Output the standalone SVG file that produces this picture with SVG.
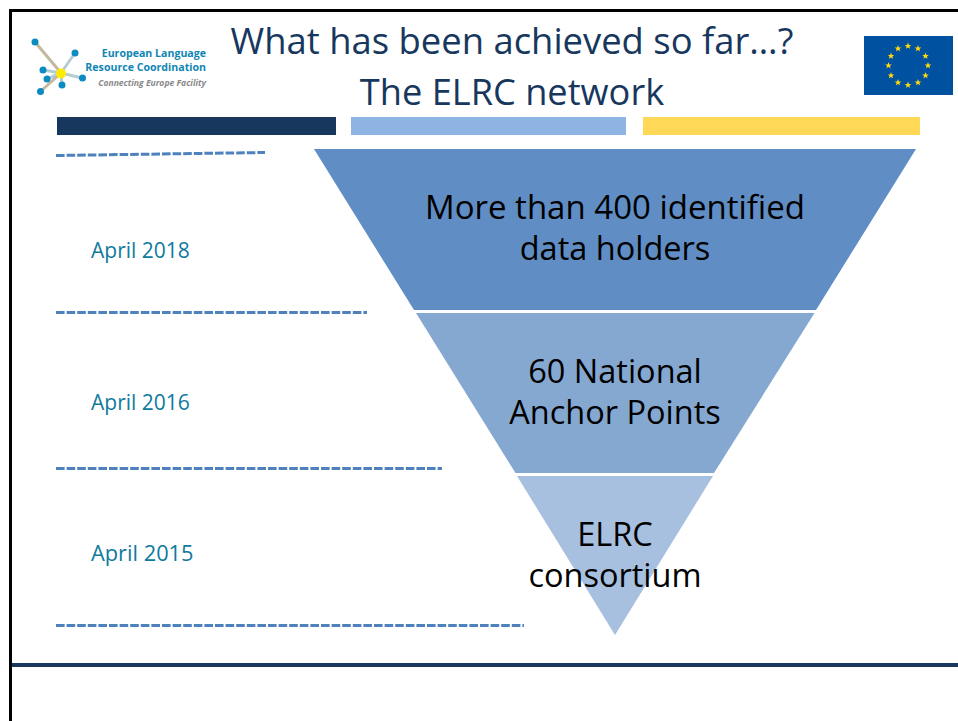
<svg xmlns="http://www.w3.org/2000/svg" width="958" height="721" viewBox="0 0 958 721">
<style>
.t{font-family:"Open Sans","Noto Sans",sans-serif}
.title{font-size:36.2px;fill:#17375e;text-anchor:middle}
.big{font-size:32.5px;fill:#000;text-anchor:middle}
.date{font-size:21px;fill:#0f7a9e}
.dash{stroke:#4f81bd;stroke-width:3;stroke-dasharray:8.6 2;fill:none}
.node{fill:#0c8bc0}
.arm{stroke-width:3;fill:none}
.lg{font-family:"Open Sans","Noto Sans",sans-serif;font-weight:700;font-size:10.6px;fill:#0f86b4;text-anchor:end}
.star{fill:#ffd90f}
</style>
<defs><polygon id="s" class="star" points="0,-3.4 0.9,-1.1 3.3,-1.1 1.4,0.4 2.1,2.8 0,1.4 -2.1,2.8 -1.4,0.4 -3.3,-1.1 -0.9,-1.1"/></defs>
<rect width="958" height="721" fill="#fff"/>
<g id="frame">
<path d="M958 10.500H10.500V721" fill="none" stroke="#000" stroke-width="3"/>
<rect x="12" y="663" width="946" height="4" fill="#17375e"/>
</g>
<g id="logo">
<g class="arm"><path d="M35 42L61 73" stroke="#c4b8a0"/><path d="M75 53L61 73" stroke="#b5cdd2"/><path d="M43 70L61 73" stroke="#b5cdd2"/><path d="M47 79L61 73" stroke="#b5cdd2"/><path d="M82 78L61 73" stroke="#b5cdd2"/><path d="M62 85L61 73" stroke="#b5cdd2"/><path d="M41 91L61 73" stroke="#c4b8a0"/></g>
<circle class="node" cx="35" cy="42" r="3.500"/><circle class="node" cx="75" cy="53" r="3.500"/><circle class="node" cx="43" cy="70" r="3.500"/><circle class="node" cx="47" cy="79" r="3.500"/><circle class="node" cx="82.500" cy="78" r="3.500"/><circle class="node" cx="62" cy="85" r="3.500"/><circle class="node" cx="40.500" cy="91.500" r="3.500"/>
<circle cx="61" cy="73.500" r="5" fill="#ffec00"/>
<text class="lg" x="206" y="56.500">European Language</text>
<text class="lg" x="206" y="71">Resource Coordination</text>
<text class="lg" x="206" y="85.500" style="font-size:8.600px;font-style:italic;fill:#8a8a8a">Connecting Europe Facility</text>
</g>
<g id="flag">
<rect x="864" y="36" width="89" height="59" fill="#0052a0"/>
<use href="#s" x="908" y="46"/><use href="#s" x="918" y="48.500"/><use href="#s" x="925.500" y="56"/><use href="#s" x="928" y="65.500"/><use href="#s" x="925.500" y="75.500"/><use href="#s" x="918" y="82.500"/><use href="#s" x="908" y="85"/><use href="#s" x="898" y="82.500"/><use href="#s" x="891" y="75.500"/><use href="#s" x="888.500" y="65.500"/><use href="#s" x="891" y="56"/><use href="#s" x="898" y="48.500"/>
</g>
<g id="title">
<text class="t title" x="512" y="54" style="font-size:36.400px">What has been achieved so far…?</text>
<text class="t title" x="512" y="105">The ELRC network</text>
</g>
<g id="bars">
<rect x="57" y="117" width="279" height="18" fill="#17375e"/>
<rect x="351" y="117" width="275" height="18" fill="#8eb4e3"/>
<rect x="643" y="117" width="277" height="18" fill="#ffd857"/>
</g>
<g id="connectors">
<path class="dash" d="M56 155.500L265 152.500"/>
<path class="dash" d="M56 312.500H367"/>
<path class="dash" d="M56 468.500H442"/>
<path class="dash" d="M56 625.500H524"/>
</g>
<g id="tier-1">
<polygon points="314,149 916,149 816,310 414,310" fill="#5f8dc4"/>
<text class="t big" x="615" y="219" style="font-size:33px">More than 400 identified</text>
<text class="t big" x="615" y="260">data holders</text>
</g>
<g id="tier-2">
<polygon points="416,313 814.500,313 714,473 515.500,473" fill="#85a8d1"/>
<text class="t big" x="615" y="383">60 National</text>
<text class="t big" x="615" y="424">Anchor Points</text>
</g>
<g id="tier-3">
<polygon points="517,476 713,476 615,635" fill="#a7c0df"/>
<text class="t big" x="615" y="546">ELRC</text>
<text class="t big" x="615" y="587">consortium</text>
</g>
<g id="dates">
<text class="t date" x="91" y="258">April 2018</text>
<text class="t date" x="91" y="410">April 2016</text>
<text class="t date" x="91" y="561" style="font-size:21.800px">April 2015</text>
</g>
</svg>
